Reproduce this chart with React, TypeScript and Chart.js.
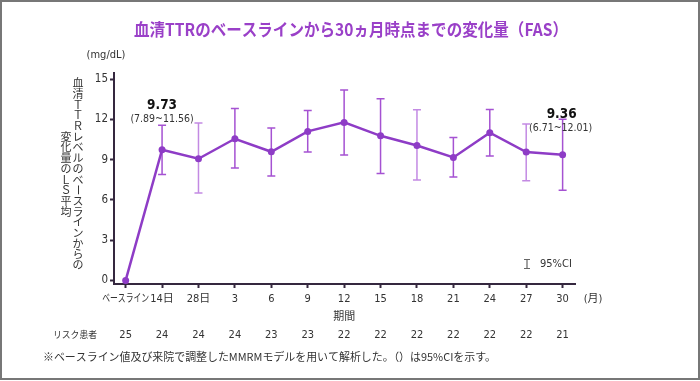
import React, { useEffect, useRef } from 'react';
import { Chart, registerables } from 'chart.js';

Chart.register(...registerables);

const periodLabels = ['ベースライン', '14日', '28日', '3', '6', '9', '12', '15', '18', '21', '24', '27', '30'];
const meanChange = [0, 9.73, 9.06, 10.55, 9.58, 11.1, 11.77, 10.77, 10.05, 9.16, 11.0, 9.56, 9.36];
const ciLower = [null, 7.89, 6.51, 8.37, 7.77, 9.56, 9.34, 7.97, 7.47, 7.7, 9.26, 7.42, 6.71];
const ciUpper = [null, 11.56, 11.72, 12.81, 11.35, 12.66, 14.18, 13.53, 12.71, 10.65, 12.73, 11.65, 12.01];
const patientsAtRisk = [25, 24, 24, 24, 23, 23, 22, 22, 22, 22, 22, 22, 21];
const yTickValues = [0, 3, 6, 9, 12, 15];

const titleText = '血清TTRのベースラインから30ヵ月時点までの変化量（FAS）';
const yTitleRight = '血清ＴＴＲレベルのベースラインからの';
const yTitleLeft = '変化量のＬＳ平均';
const footnote = '※ベースライン値及び来院で調整したMMRMモデルを用いて解析した。（）は95%CIを示す。';

const LINE = '#8e3cc6';
const ERR = '#a552d2';
const ERR_LIGHT = '#c38ae3';
const errLightIdx = [2, 8, 11];
const AXIS = '#35283f';
const TEXT = '#333333';
const TITLE = '#9a40c8';
const LAT = '"DejaVu Sans Condensed", "DejaVu Sans", "Noto Sans CJK JP", sans-serif';
const CJK = '"Noto Sans CJK JP", "DejaVu Sans", sans-serif';

function drawVertical(ctx: CanvasRenderingContext2D, text: string, x: number, yc: number, step: number) {
  const chars = Array.from(text);
  const start = yc - ((chars.length - 1) * step) / 2;
  chars.forEach((ch, i) => {
    const y = start + i * step;
    if (ch === 'ー') {
      ctx.save();
      ctx.translate(x, y);
      ctx.rotate(Math.PI / 2);
      ctx.fillText(ch, 0, 0);
      ctx.restore();
    } else {
      ctx.fillText(ch, x, y);
    }
  });
}

const decorPlugin = {
  id: 'decor',
  beforeDraw(chart: any) {
    const ctx = chart.ctx as CanvasRenderingContext2D;
    ctx.save();
    ctx.fillStyle = '#ffffff';
    ctx.fillRect(0, 0, chart.width, chart.height);
    ctx.restore();
  },
  beforeDatasetsDraw(chart: any) {
    const ctx = chart.ctx as CanvasRenderingContext2D;
    const xs = chart.scales.x;
    const ys = chart.scales.y;
    ctx.save();
    ctx.lineWidth = 1.5;
    for (let i = 0; i < meanChange.length; i++) {
      const lo = ciLower[i];
      const hi = ciUpper[i];
      if (lo == null || hi == null) continue;
      const x = xs.getPixelForValue(i);
      const yl = ys.getPixelForValue(lo);
      const yh = ys.getPixelForValue(hi);
      ctx.strokeStyle = errLightIdx.includes(i) ? ERR_LIGHT : ERR;
      ctx.beginPath();
      ctx.moveTo(x, yh);
      ctx.lineTo(x, yl);
      ctx.moveTo(x - 4, yh);
      ctx.lineTo(x + 4, yh);
      ctx.moveTo(x - 4, yl);
      ctx.lineTo(x + 4, yl);
      ctx.stroke();
    }
    ctx.restore();
  },
  afterDraw(chart: any) {
    const ctx = chart.ctx as CanvasRenderingContext2D;
    const xs = chart.scales.x;
    const ys = chart.scales.y;
    ctx.save();
    // outer border
    ctx.strokeStyle = '#777777';
    ctx.lineWidth = 2;
    ctx.strokeRect(1, 1, 698, 378);

    ctx.textBaseline = 'middle';
    ctx.textAlign = 'center';

    // title
    ctx.fillStyle = TITLE;
    ctx.font = `bold 17px ${CJK}`;
    ctx.fillText(titleText, 351, 30, 434);

    // unit
    ctx.fillStyle = TEXT;
    ctx.font = `11px ${LAT}`;
    ctx.fillText('(mg/dL)', 106, 55);

    // vertical y title
    ctx.font = `11px ${CJK}`;
    drawVertical(ctx, yTitleRight, 78, 174, 10.7);
    drawVertical(ctx, yTitleLeft, 66, 174, 10.7);

    // x tick labels
    ctx.font = `11px ${LAT}`;
    periodLabels.forEach((lab, i) => {
      const x = xs.getPixelForValue(i);
      if (i === 0) {
        ctx.fillText(lab, x, 299, 47);
      } else {
        ctx.fillText(lab, x, 299);
      }
    });
    ctx.fillText('(月)', 593, 299, 23);
    ctx.fillText('期間', xs.getPixelForValue(6), 317);

    // at-risk row
    ctx.font = `9.5px ${CJK}`;
    ctx.textAlign = 'left';
    ctx.fillText('リスク患者', 53, 334, 44);
    ctx.textAlign = 'center';
    ctx.font = `11px ${LAT}`;
    patientsAtRisk.forEach((n, i) => {
      ctx.fillText(String(n), xs.getPixelForValue(i), 335);
    });

    // footnote
    ctx.textAlign = 'left';
    ctx.font = `11px ${CJK}`;
    ctx.fillText(footnote, 43, 357, 453);

    // annotations
    ctx.textAlign = 'center';
    ctx.fillStyle = '#111111';
    const a1x = xs.getPixelForValue(1);
    ctx.font = `bold 13.5px ${LAT}`;
    ctx.fillText(meanChange[1].toFixed(2), a1x, 105);
    ctx.font = `10.5px ${LAT}`;
    ctx.fillStyle = TEXT;
    ctx.fillText(`(${ciLower[1]!.toFixed(2)}~${ciUpper[1]!.toFixed(2)})`, a1x, 119, 66);
    const last = meanChange.length - 1;
    const a2x = xs.getPixelForValue(last);
    ctx.fillStyle = '#111111';
    ctx.font = `bold 13.5px ${LAT}`;
    ctx.fillText(meanChange[last].toFixed(2), a2x - 1, 114);
    ctx.font = `10.5px ${LAT}`;
    ctx.fillStyle = TEXT;
    ctx.fillText(`(${ciLower[last]!.toFixed(2)}~${ciUpper[last]!.toFixed(2)})`, a2x - 2, 128, 66);

    // legend
    ctx.strokeStyle = '#666666';
    ctx.lineWidth = 1.2;
    ctx.beginPath();
    ctx.moveTo(527, 259.5);
    ctx.lineTo(527, 268.5);
    ctx.moveTo(524, 259.5);
    ctx.lineTo(530, 259.5);
    ctx.moveTo(524, 268.5);
    ctx.lineTo(530, 268.5);
    ctx.stroke();
    ctx.textAlign = 'left';
    ctx.fillStyle = TEXT;
    ctx.font = `11px ${LAT}`;
    ctx.fillText('95%CI', 540, 264);
    ctx.restore();
  },
};

export default function App() {
  const ref = useRef<HTMLCanvasElement>(null);
  useEffect(() => {
    document.body.style.margin = '0';
    const canvas = ref.current!;
    const chart = new Chart(canvas, {
      type: 'line',
      data: {
        datasets: [
          {
            data: meanChange.map((v, i) => ({ x: i, y: v })),
            borderColor: LINE,
            backgroundColor: LINE,
            pointBackgroundColor: LINE,
            pointBorderColor: LINE,
            borderWidth: 2.5,
            pointRadius: 3.5,
            pointBorderWidth: 0,
            tension: 0,
            clip: false as any,
          },
        ],
      },
      options: {
        animation: false,
        responsive: false,
        devicePixelRatio: 1,
        layout: { padding: { top: 73, right: 125, bottom: 77, left: 0 } },
        plugins: { legend: { display: false }, tooltip: { enabled: false } },
        scales: {
          x: {
            type: 'linear',
            min: -0.32,
            max: 12.34,
            afterBuildTicks: (s: any) => {
              s.ticks = periodLabels.map((_, i) => ({ value: i }));
            },
            afterFit: (s: any) => {
              s.height = 20;
            },
            grid: { display: true, drawOnChartArea: false, drawTicks: true, tickLength: 4, tickColor: AXIS, tickWidth: 2 },
            border: { display: true, color: AXIS, width: 2 },
            ticks: { display: false },
          },
          y: {
            type: 'linear',
            min: -0.27,
            max: 15.45,
            afterBuildTicks: (s: any) => {
              s.ticks = yTickValues.map((v) => ({ value: v }));
            },
            afterFit: (s: any) => {
              s.width = 114;
            },
            grid: { display: true, drawOnChartArea: false, drawTicks: true, tickLength: 4, tickColor: AXIS, tickWidth: 2 },
            border: { display: true, color: AXIS, width: 2 },
            ticks: {
              display: true,
              padding: 2,
              color: TEXT,
              font: { family: LAT, size: 11.5 },
              callback: (v: any) => String(v),
            },
          },
        },
      } as any,
      plugins: [decorPlugin],
    });
    return () => chart.destroy();
  }, []);
  return (
    <div style={{ position: 'absolute', left: 0, top: 0, width: 700, height: 381 }}>
      <canvas ref={ref} width={700} height={381} style={{ display: 'block' }} />
    </div>
  );
}
